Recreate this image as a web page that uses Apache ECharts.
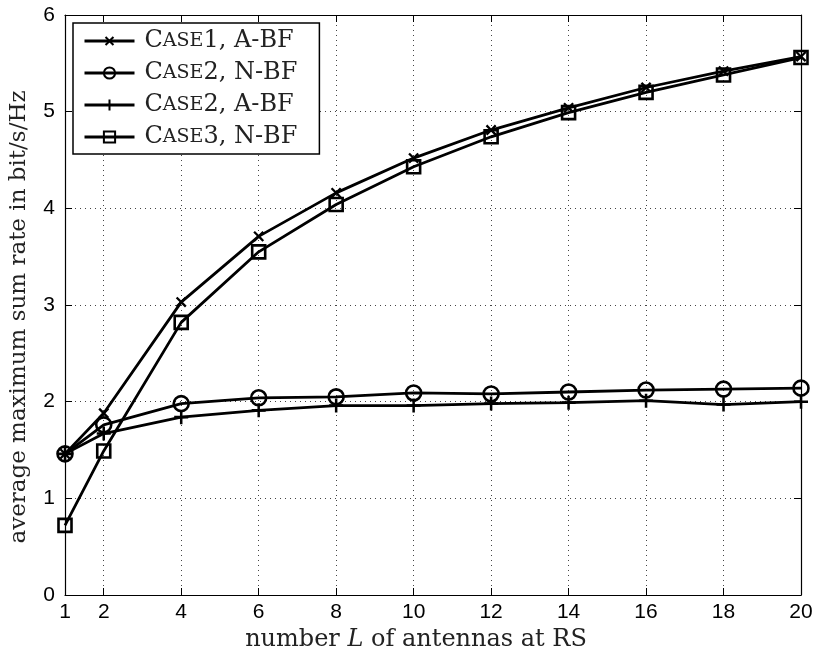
<!DOCTYPE html>
<html><head><meta charset="utf-8">
<script src="https://cdn.jsdelivr.net/npm/echarts@6/dist/echarts.min.js"></script>
<style>html,body{margin:0;padding:0;background:#fff}#c{width:817px;height:657px}</style>
</head><body><div id="c"></div>
<script>
const L = [1, 2, 4, 6, 8, 10, 12, 14, 16, 18, 20];
const xTicks = [1, 2, 4, 6, 8, 10, 12, 14, 16, 18, 20];
const yTicks = [0, 1, 2, 3, 4, 5, 6];
const case1ABF = [1.46, 1.88, 3.03, 3.71, 4.16, 4.52, 4.81, 5.04, 5.25, 5.42, 5.57];
const case2NBF = [1.46, 1.76, 1.98, 2.04, 2.05, 2.09, 2.08, 2.10, 2.12, 2.13, 2.14];
const case2ABF = [1.46, 1.67, 1.84, 1.91, 1.96, 1.96, 1.98, 1.99, 2.01, 1.97, 2.00];
const case3NBF = [0.72, 1.49, 2.82, 3.55, 4.04, 4.43, 4.74, 4.99, 5.20, 5.38, 5.56];
const names = ['Case1, A-BF', 'Case2, N-BF', 'Case2, A-BF', 'Case3, N-BF'];

const plusPath = 'path://M4.1,0 L5.9,0 L5.9,4.1 L10,4.1 L10,5.9 L5.9,5.9 L5.9,10 L4.1,10 L4.1,5.9 L0,5.9 L0,4.1 L4.1,4.1 Z';
const serif = '"DejaVu Serif", "Liberation Serif", serif';
const sans = '"Liberation Sans", Arial, sans-serif';
const pairs = a => L.map((x, i) => [x, a[i]]);

function mk(name, data, sym) {
  const s = {
    name, type: 'line', data: pairs(data), xAxisIndex: 0, yAxisIndex: 0,
    lineStyle: { color: '#000', width: 2.8 },
    itemStyle: { color: '#000' },
    emphasis: { disabled: true }, animation: false, z: 5
  };
  Object.assign(s, sym);
  return s;
}

const chart = echarts.init(document.getElementById('c'), null, { renderer: 'canvas' });
chart.setOption({
  animation: false,
  backgroundColor: '#fff',
  grid: { left: 65, right: 16, top: 15, bottom: 61, containLabel: false },
  xAxis: [{
    type: 'value', min: 1, max: 20, position: 'bottom',
    name: 'number {i|L} of antennas at RS', nameLocation: 'middle', nameGap: 33,
    nameTextStyle: { fontFamily: serif, fontSize: 24, color: '#222', padding: [0, 34, 0, 0],
      rich: { i: { fontFamily: serif, fontSize: 24, fontStyle: 'italic', color: '#222' } } },
    axisLine: { onZero: false, lineStyle: { color: '#000', width: 1.2 } },
    axisTick: { inside: true, length: 7, customValues: xTicks, lineStyle: { color: '#000' } },
    axisLabel: { customValues: xTicks, fontFamily: sans, fontSize: 21, color: '#000', margin: 7 },
    splitLine: { show: true, lineStyle: { color: '#444', type: [1, 4], width: 1 } }
  }, {
    type: 'value', min: 1, max: 20, position: 'top',
    axisLine: { onZero: false, lineStyle: { color: '#000', width: 1.2 } },
    axisTick: { inside: true, length: 7, customValues: xTicks, lineStyle: { color: '#000' } },
    axisLabel: { show: false }, splitLine: { show: false }
  }],
  yAxis: [{
    type: 'value', min: 0, max: 6, interval: 1, position: 'left',
    name: 'average maximum sum rate in bit/s/Hz', nameLocation: 'middle', nameGap: 34,
    nameTextStyle: { fontFamily: serif, fontSize: 23, color: '#222', padding: [0, 24, 0, 0] },
    axisLine: { show: true, onZero: false, lineStyle: { color: '#000', width: 1.2 } },
    axisTick: { show: true, inside: true, length: 7, lineStyle: { color: '#000' } },
    axisLabel: { fontFamily: sans, fontSize: 21, color: '#000', margin: 10,
      formatter: v => yTicks.includes(v) ? String(v) : '' },
    splitLine: { show: true, lineStyle: { color: '#444', type: [1, 4], width: 1 } }
  }, {
    type: 'value', min: 0, max: 6, interval: 1, position: 'right',
    axisLine: { show: true, onZero: false, lineStyle: { color: '#000', width: 1.2 } },
    axisTick: { show: true, inside: true, length: 7, lineStyle: { color: '#000' } },
    axisLabel: { show: false }, splitLine: { show: false }
  }],
  legend: {
    orient: 'vertical', left: 73, top: 23,
    data: names,
    backgroundColor: '#fff', borderColor: '#000', borderWidth: 1.5, borderRadius: 0,
    padding: [6, 22, 5, 10],
    itemWidth: 50, itemHeight: 14, itemGap: 8,
    selectedMode: false,
    lineStyle: { width: 3, color: '#000' },
    formatter: n => {
      const m = n.match(/^Case(\d)(.*)$/);
      return '{a|C}{b|ASE}{a|' + m[1] + m[2] + '}';
    },
    textStyle: {
      color: '#222', padding: [0, 0, 0, 5],
      rich: {
        a: { fontFamily: serif, fontSize: 24, color: '#222' },
        b: { fontFamily: serif, fontSize: 19, color: '#222' }
      }
    }
  },
  series: [
    mk(names[0], case1ABF, { symbol: plusPath, symbolRotate: 45, symbolSize: 13 }),
    mk(names[1], case2NBF, { symbol: 'circle', symbolSize: 15,
      itemStyle: { color: 'rgba(0,0,0,0)', borderColor: '#000', borderWidth: 2.6 } }),
    mk(names[2], case2ABF, { symbol: plusPath, symbolSize: 14 }),
    mk(names[3], case3NBF, { symbol: 'rect', symbolSize: 13,
      itemStyle: { color: 'rgba(0,0,0,0)', borderColor: '#000', borderWidth: 2.6 } })
  ]
});
</script></body></html>
